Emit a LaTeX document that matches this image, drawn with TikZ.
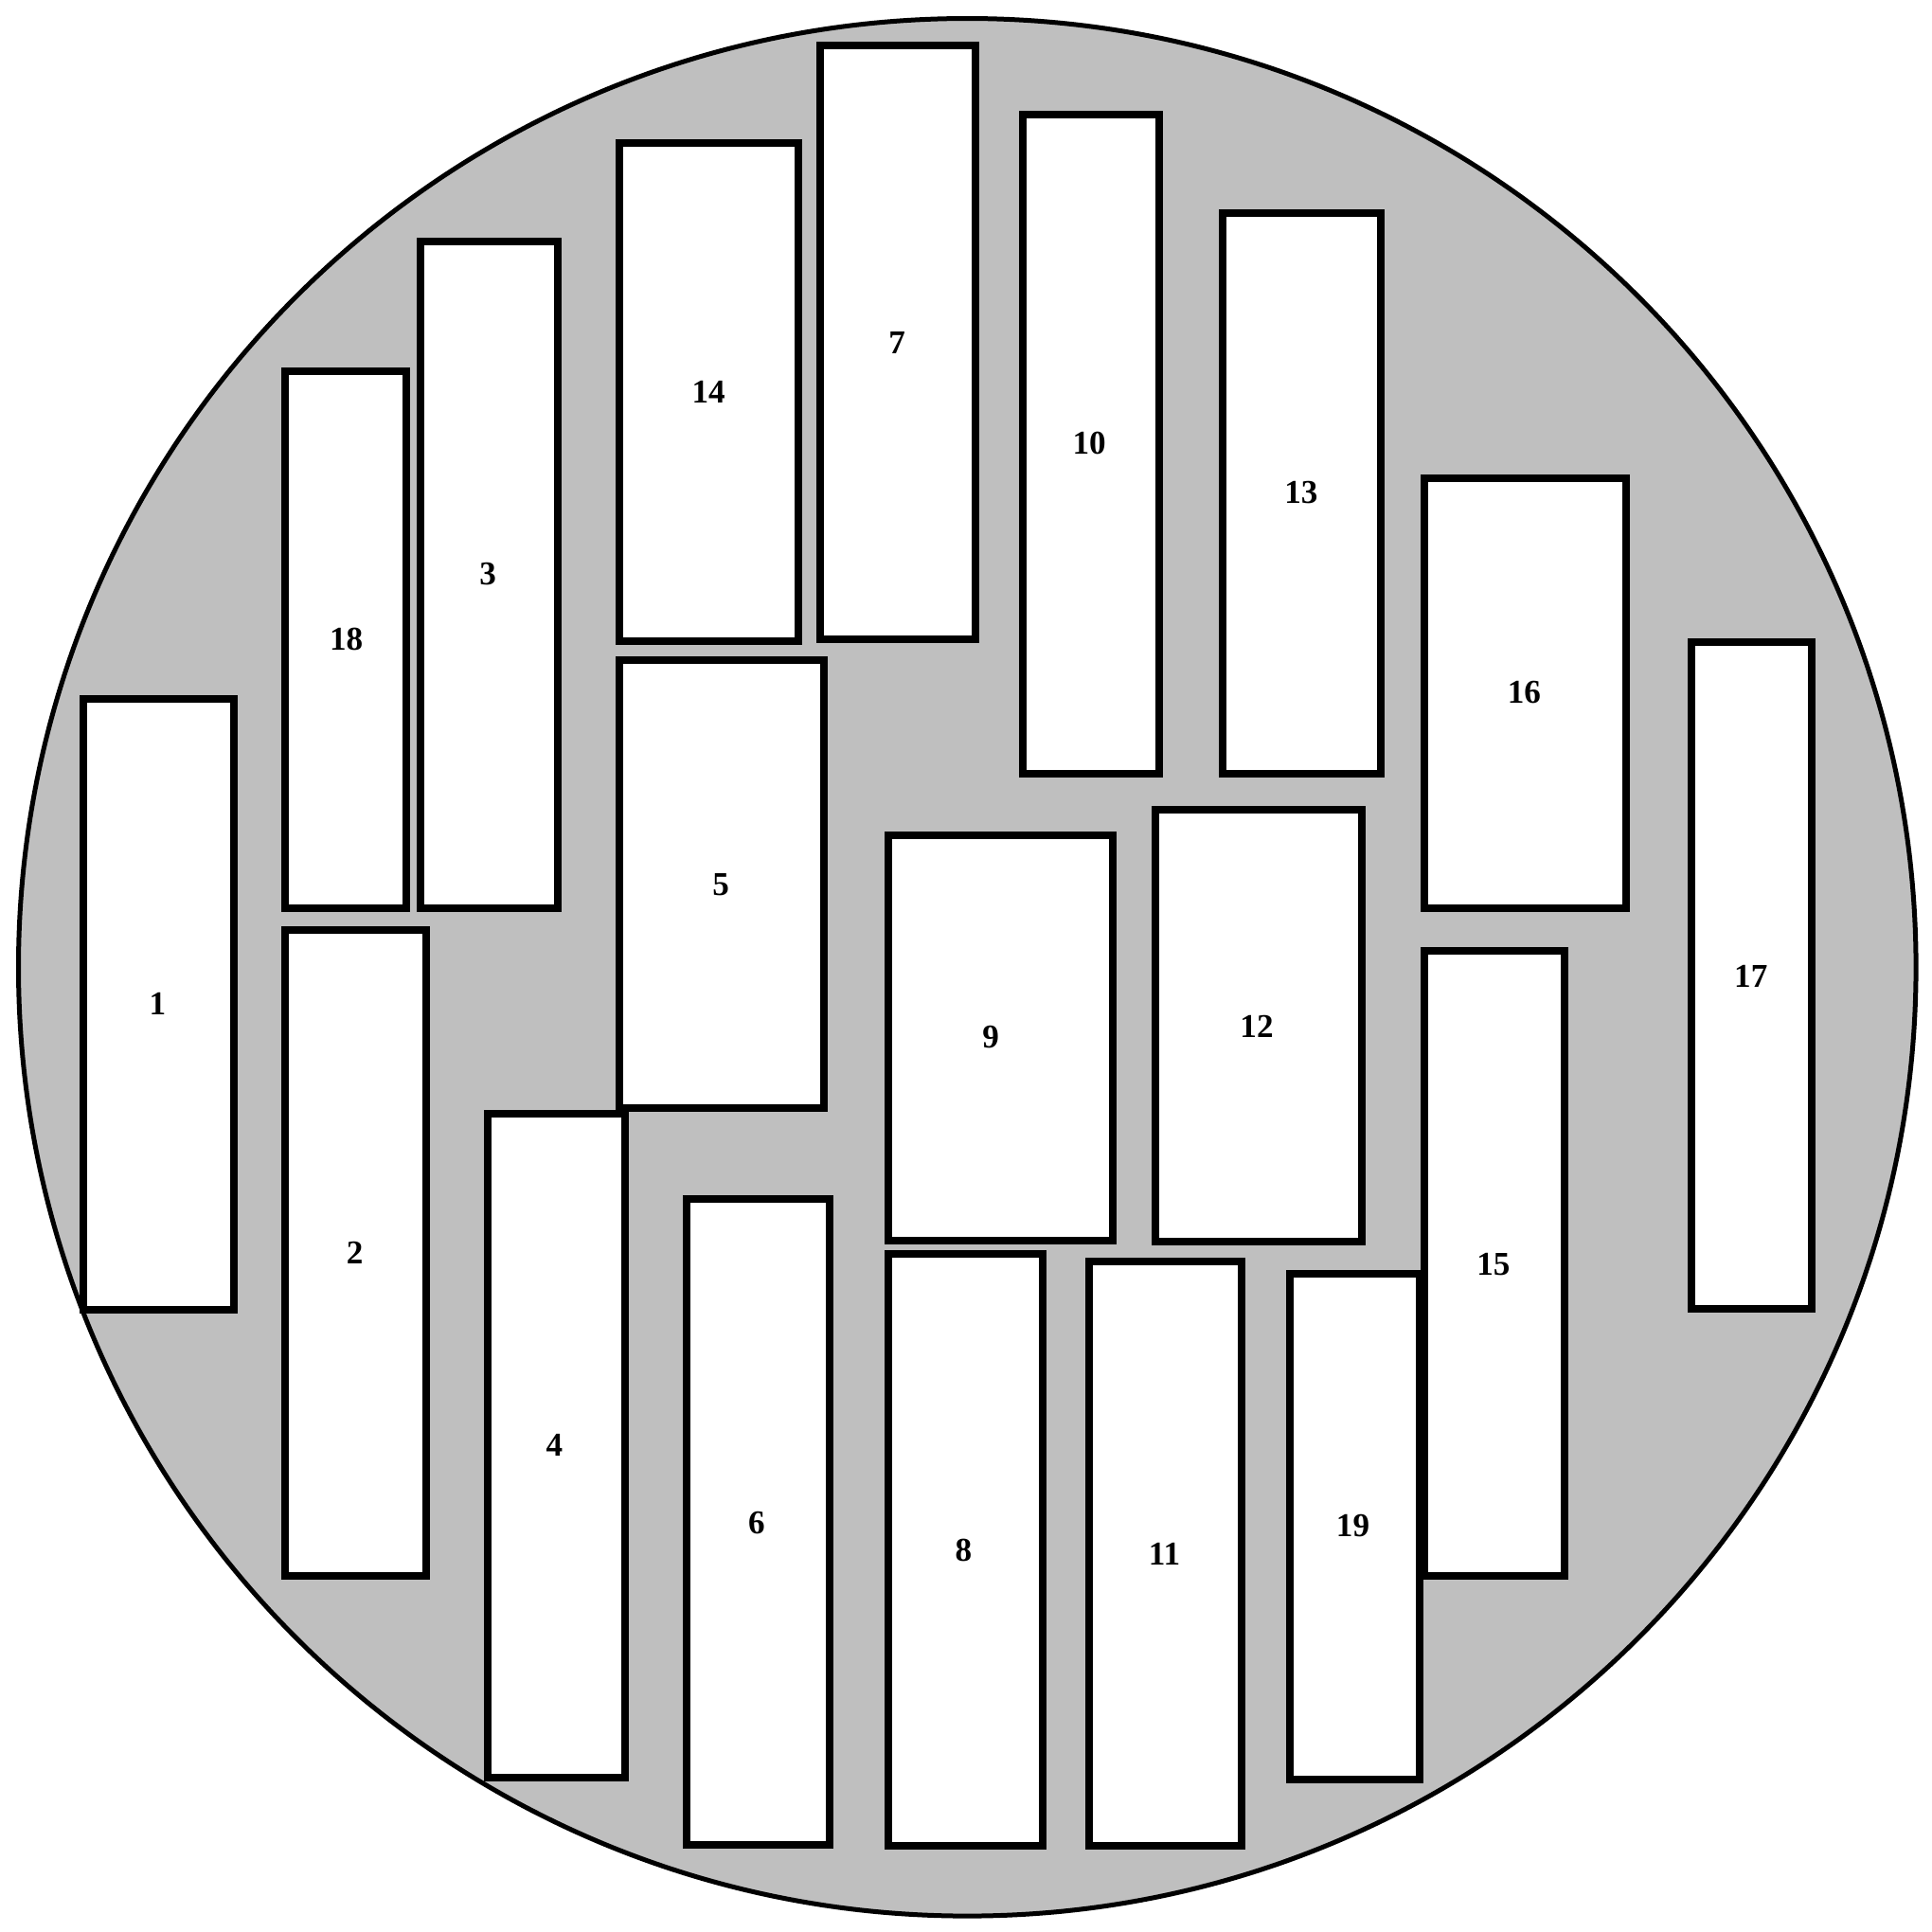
\documentclass[tikz,border=0pt]{standalone}
\usepackage{fontspec}
\setmainfont{Liberation Serif}
\definecolor{platebg}{RGB}{191,191,191}
\begin{document}
\begin{tikzpicture}[
  x=0.0130102cm,
  y=-0.0130102cm,
  line join=miter,
  plate/.style={draw=black,line width=0.05cm,fill=platebg},
  slot/.style={draw=black,line width=0.08cm,fill=white},
  slotlabel/.style={font=\fontsize{10}{12}\selectfont\bfseries,inner sep=0pt}
]
  \useasboundingbox (0,0) rectangle (1568,1568);

  % Основание
  \draw[plate] (785,785) circle[radius=770];

  % Пластины: номер / левый верхний угол / правый нижний угол / подпись
  \foreach \n/\xa/\ya/\xb/\yb/\lx/\ly in {
      1/68/567/190/1063/128/815,
      18/231/301/330/737/281/519,
      3/341/196/453/737/396/466,
      14/503/116/648/520/575/318,
      7/666/37/792/519/728/278,
      10/830/93/941/628/884/360,
      13/992/173/1121/628/1056/400,
      16/1156/388/1320/737/1237/562,
      17/1373/521/1470/1062/1421/792,
      5/503/536/669/899/585/718,
      9/721/678/903/1007/804/842,
      12/938/657/1105/1008/1020/833,
      2/231/755/346/1279/288/1017,
      4/396/904/507/1443/450/1173,
      6/557/973/673/1497/614/1236,
      8/721/1018/846/1498/782/1258,
      11/884/1024/1008/1498/945/1261,
      19/1047/1034/1152/1444/1098/1238,
      15/1156/772/1270/1279/1212/1026}
  {
    \draw[slot] (\xa,\ya) rectangle (\xb,\yb);
    \node[slotlabel] (p\n) at (\lx,\ly) {\n};
  }
\end{tikzpicture}
\end{document}
